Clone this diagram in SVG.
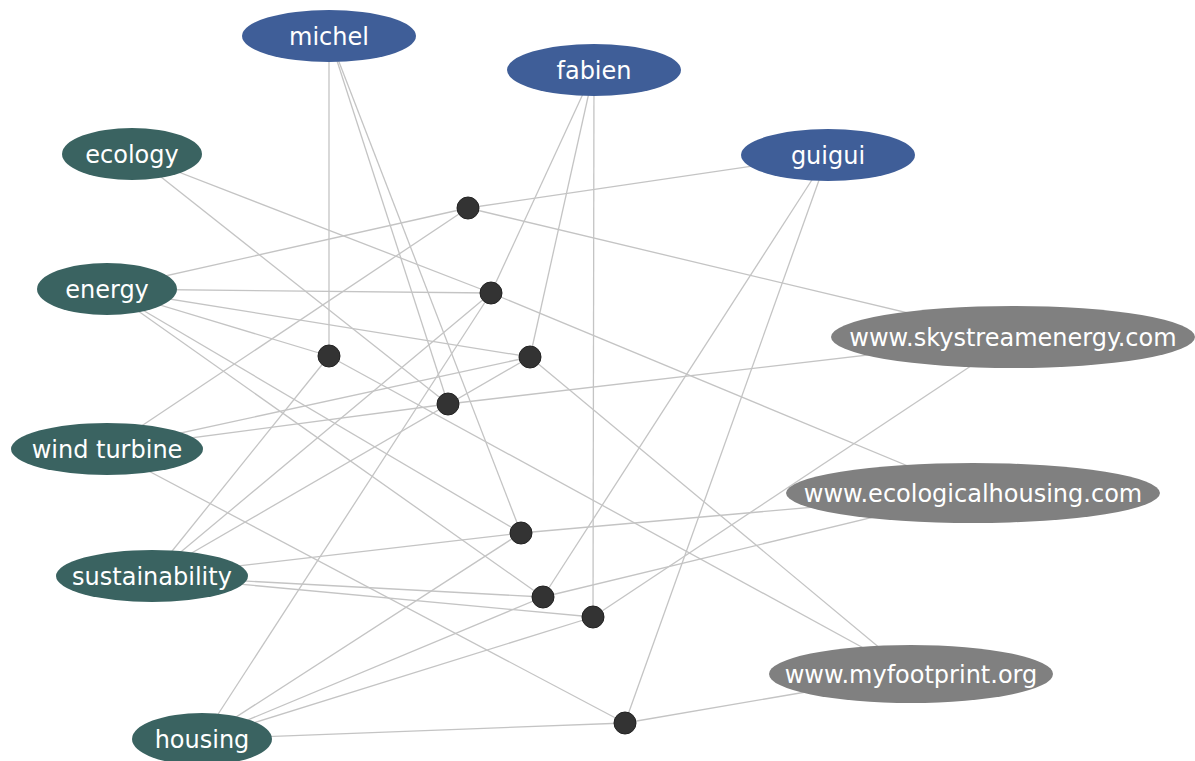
<svg xmlns="http://www.w3.org/2000/svg" width="1195" height="761" viewBox="0 0 1195 761">
<style>
.e{stroke:#c4c4c4;stroke-width:1.3;fill:none}
.user{fill:#3f5e98}
.tag{fill:#3a6361}
.url{fill:#808080}
.dot{fill:#333333;stroke:#222222;stroke-width:1}
text{font-family:"DejaVu Sans","Liberation Sans",sans-serif;font-size:24px;fill:#ffffff;text-anchor:middle}
</style>
<rect width="1195" height="761" fill="#ffffff"/>
<g id="connectors">
<!-- D1 468,208 -->
<line class="e" x1="468" y1="208" x2="828" y2="155"/>
<line class="e" x1="468" y1="208" x2="107" y2="289"/>
<line class="e" x1="468" y1="208" x2="107" y2="449"/>
<line class="e" x1="468" y1="208" x2="1013" y2="338"/>
<!-- D2 491,293 -->
<line class="e" x1="491" y1="293" x2="594" y2="70"/>
<line class="e" x1="491" y1="293" x2="132" y2="154"/>
<line class="e" x1="491" y1="293" x2="107" y2="289"/>
<line class="e" x1="491" y1="293" x2="152" y2="576"/>
<line class="e" x1="491" y1="293" x2="202" y2="739"/>
<line class="e" x1="491" y1="293" x2="973" y2="493"/>
<!-- D3 329,356 -->
<line class="e" x1="329" y1="356" x2="329" y2="36"/>
<line class="e" x1="329" y1="356" x2="107" y2="289"/>
<line class="e" x1="329" y1="356" x2="152" y2="576"/>
<line class="e" x1="329" y1="356" x2="911" y2="674"/>
<!-- D4 530,357 -->
<line class="e" x1="530" y1="357" x2="594" y2="70"/>
<line class="e" x1="530" y1="357" x2="107" y2="289"/>
<line class="e" x1="530" y1="357" x2="107" y2="449"/>
<line class="e" x1="530" y1="357" x2="152" y2="576"/>
<line class="e" x1="530" y1="357" x2="911" y2="674"/>
<!-- D5 448,404 -->
<line class="e" x1="448" y1="404" x2="329" y2="36"/>
<line class="e" x1="448" y1="404" x2="132" y2="154"/>
<line class="e" x1="448" y1="404" x2="107" y2="449"/>
<line class="e" x1="448" y1="404" x2="1013" y2="338"/>
<!-- D6 521,533 -->
<line class="e" x1="521" y1="533" x2="329" y2="36"/>
<line class="e" x1="521" y1="533" x2="107" y2="289"/>
<line class="e" x1="521" y1="533" x2="152" y2="576"/>
<line class="e" x1="521" y1="533" x2="202" y2="739"/>
<line class="e" x1="521" y1="533" x2="973" y2="493"/>
<!-- D7 543,597 -->
<line class="e" x1="543" y1="597" x2="828" y2="155"/>
<line class="e" x1="543" y1="597" x2="107" y2="289"/>
<line class="e" x1="543" y1="597" x2="152" y2="576"/>
<line class="e" x1="543" y1="597" x2="202" y2="739"/>
<line class="e" x1="543" y1="597" x2="973" y2="493"/>
<!-- D8 593,617 -->
<line class="e" x1="593" y1="617" x2="594" y2="70"/>
<line class="e" x1="593" y1="617" x2="152" y2="576"/>
<line class="e" x1="593" y1="617" x2="202" y2="739"/>
<line class="e" x1="593" y1="617" x2="1013" y2="338"/>
<!-- D9 625,723 -->
<line class="e" x1="625" y1="723" x2="828" y2="155"/>
<line class="e" x1="625" y1="723" x2="107" y2="449"/>
<line class="e" x1="625" y1="723" x2="202" y2="739"/>
<line class="e" x1="625" y1="723" x2="911" y2="674"/>
</g>
<g id="michel"><ellipse class="user" cx="329" cy="36" rx="87" ry="26"/><text x="329" y="45">michel</text></g>
<g id="fabien"><ellipse class="user" cx="594" cy="70" rx="87" ry="26"/><text x="594" y="79">fabien</text></g>
<g id="guigui"><ellipse class="user" cx="828" cy="155" rx="87" ry="26"/><text x="828" y="164">guigui</text></g>
<g id="ecology"><ellipse class="tag" cx="132" cy="154" rx="70" ry="26"/><text x="132" y="163">ecology</text></g>
<g id="energy"><ellipse class="tag" cx="107" cy="289" rx="70" ry="26"/><text x="107" y="298">energy</text></g>
<g id="wind-turbine"><ellipse class="tag" cx="107" cy="449" rx="96" ry="26"/><text x="107" y="458">wind turbine</text></g>
<g id="sustainability"><ellipse class="tag" cx="152" cy="576" rx="96" ry="26"/><text x="152" y="585">sustainability</text></g>
<g id="housing"><ellipse class="tag" cx="202" cy="739" rx="70" ry="26"/><text x="202" y="748">housing</text></g>
<g id="skystream"><ellipse class="url" cx="1013" cy="337" rx="182" ry="31"/><text x="1013" y="346">www.skystreamenergy.com</text></g>
<g id="ecologicalhousing"><ellipse class="url" cx="973" cy="493" rx="187" ry="30"/><text x="973" y="502">www.ecologicalhousing.com</text></g>
<g id="myfootprint"><ellipse class="url" cx="911" cy="674" rx="142" ry="29"/><text x="911" y="683">www.myfootprint.org</text></g>
<g id="d1"><circle class="dot" cx="468" cy="208" r="11"/></g>
<g id="d2"><circle class="dot" cx="491" cy="293" r="11"/></g>
<g id="d3"><circle class="dot" cx="329" cy="356" r="11"/></g>
<g id="d4"><circle class="dot" cx="530" cy="357" r="11"/></g>
<g id="d5"><circle class="dot" cx="448" cy="404" r="11"/></g>
<g id="d6"><circle class="dot" cx="521" cy="533" r="11"/></g>
<g id="d7"><circle class="dot" cx="543" cy="597" r="11"/></g>
<g id="d8"><circle class="dot" cx="593" cy="617" r="11"/></g>
<g id="d9"><circle class="dot" cx="625" cy="723" r="11"/></g>
</svg>
